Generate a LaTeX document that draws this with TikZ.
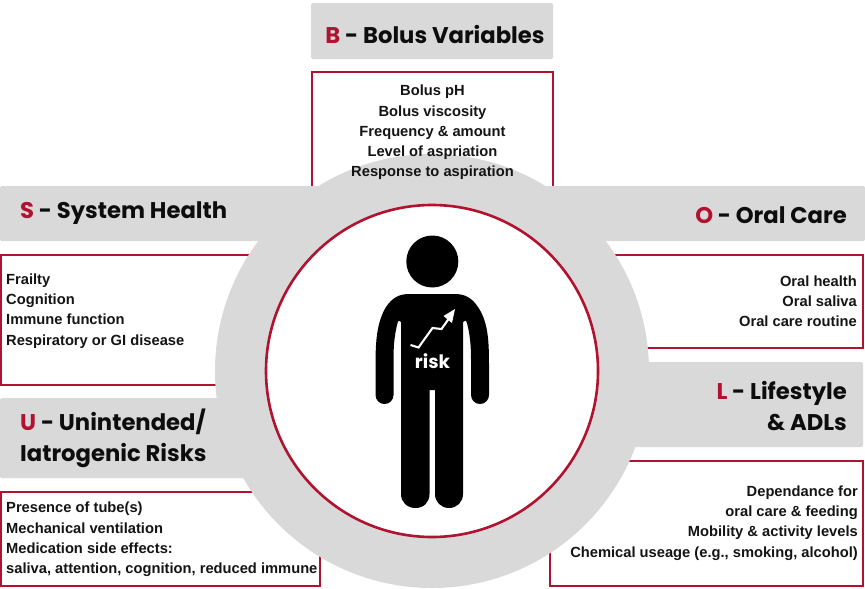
\documentclass[tikz,border=0pt]{standalone}
\usepackage{fontspec}
\setmainfont{Liberation Sans}
\newfontfamily\headfont{Poppins}
\definecolor{rk}{HTML}{B0122F}
\definecolor{gb}{HTML}{D9D9D9}
\tikzset{
  redbox/.style={draw=rk,line width=2.6pt,fill=white},
  band/.style={fill=gb,rounded corners=1.5pt},
  head/.style={inner sep=0pt,font=\headfont\fontsize{22.7}{31}\selectfont\bfseries,text=black!95},
  body/.style={inner sep=0pt,font=\fontsize{14.7}{20.2}\selectfont\bfseries,text=black!92},
}
\newcommand{\R}[1]{\textcolor{rk}{#1}}
\begin{document}
\begin{tikzpicture}[x=1pt,y=-1pt]
\useasboundingbox (0,0) rectangle (865,589);
% red text boxes
\draw[redbox] (312,72) rectangle (553,200);
\draw[redbox] (1,255) rectangle (300,385);
\draw[redbox] (560,255) rectangle (863,348);
\draw[redbox] (1,492) rectangle (320,586);
\draw[redbox] (550,461) rectangle (863,586);
% grey disc and bands
\fill[gb] (432,371) circle (217);
\fill[band] (311,3) rectangle (553,59);
\fill[band] (0,186) rectangle (330,241);
\fill[band] (535,186) rectangle (865,241);
\fill[band] (0,398) rectangle (300,478);
\fill[band] (600,362) rectangle (863,447);
% centre
\draw[draw=rk,line width=2.6pt,fill=white] (432,371) circle (166);
% person
\fill[black] (432.3,261.5) circle (26);
\fill[black] (429.5,390) -- (435,390) -- (435,494)
  .. controls (435,502) and (441,508) .. (449,508)
  .. controls (457,508) and (463,502) .. (463,494)
  -- (463,322)
  .. controls (465,320) and (466,320) .. (467,323)
  .. controls (470,335) and (471,345) .. (471,360)
  -- (471,395)
  .. controls (471,400) and (475,404) .. (480,404)
  .. controls (485,404) and (489,400) .. (489,395)
  -- (489,365)
  .. controls (489,340) and (488,322) .. (478,307)
  .. controls (472,298) and (465,294) .. (455,294)
  -- (409,294)
  .. controls (399,294) and (392,298) .. (386,307)
  .. controls (377,322) and (375.5,340) .. (375.5,365)
  -- (375.5,395)
  .. controls (375.5,400) and (379.5,404) .. (384.5,404)
  .. controls (389.5,404) and (393.5,400) .. (393.5,395)
  -- (393.5,360)
  .. controls (393.5,345) and (394.5,335) .. (397.5,323)
  .. controls (398.5,320) and (399.5,320) .. (401,322)
  -- (401,494)
  .. controls (401,502) and (407,508) .. (415.5,508)
  .. controls (424,508) and (429.5,502) .. (429.5,494)
  -- cycle;
\draw[white,line width=2.1pt,line join=miter] (410.5,345) -- (418.5,347.5) -- (432.5,328) -- (441.5,329) -- (450,317);
\fill[white] (455,309) -- (452,323) -- (443.5,316) -- cycle;
\node[inner sep=0pt,text=white,font=\headfont\fontsize{18.5}{20}\selectfont\bfseries] (risk) at (432.5,361) {risk};
% headers
\node[head] (hb) at (435,34) {\R{B} - Bolus Variables};
\node[head,anchor=west] (hs) at (20,213) {\R{S} - System Health};
\node[head,anchor=east] (ho) at (847,215) {\R{O} - Oral Care};
\node[head,anchor=west,align=left] (hu) at (20,438) {\R{U} - Unintended/\\Iatrogenic Risks};
\node[head,anchor=east,align=right] (hl) at (847,406) {\R{L} - Lifestyle\\\& ADLs};
% lists
\node[body,align=center] (tb) at (432.5,132.5) {Bolus pH\\Bolus viscosity\\Frequency \& amount\\Level of aspriation\\Response to aspiration};
\node[body,anchor=west,align=left] (ts) at (6,311) {Frailty\\Cognition\\Immune function\\Respiratory or GI disease};
\node[body,anchor=east,align=right] (to) at (857,301.5) {Oral health\\Oral saliva\\Oral care routine};
\node[body,anchor=west,align=left] (tu) at (6,539.5) {Presence of tube(s)\\Mechanical ventilation\\Medication side effects:\\saliva, attention, cognition, reduced immune};
\node[body,anchor=east,align=right] (tl) at (858,523) {Dependance for\\oral care \& feeding\\Mobility \& activity levels\\Chemical useage (e.g., smoking, alcohol)};
\end{tikzpicture}
\end{document}
